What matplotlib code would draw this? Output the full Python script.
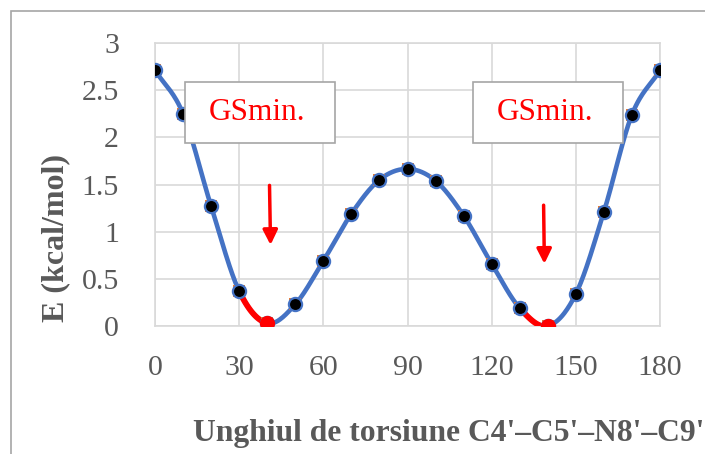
import numpy as np
import matplotlib
matplotlib.use("Agg")
import matplotlib.pyplot as plt
from matplotlib.patches import Rectangle

# datos
angulos = [0, 10, 20, 30, 40, 50, 60, 70, 80, 90, 100, 110, 120, 130, 140, 150, 160, 170, 180]
energia = [2.71, 2.25, 1.27, 0.37, 0.03, 0.23, 0.69, 1.19, 1.55, 1.665, 1.54, 1.17, 0.66, 0.19, 0.0, 0.34, 1.21, 2.24, 2.71]
minimos = [40, 140]
xticks = [0, 30, 60, 90, 120, 150, 180]
yticks = [0, 0.5, 1, 1.5, 2, 2.5, 3]
ytick_labels = ['0', '0.5', '1', '1.5', '2', '2.5', '3']

gris = '#595959'
azul = '#4472C4'
W, H = 705, 454


def suavizar(x, y, n=30):
    # Catmull-Rom para imitar la linea suavizada de Excel
    x = np.asarray(x, float)
    y = np.asarray(y, float)
    px = np.concatenate([[2 * x[0] - x[1]], x, [2 * x[-1] - x[-2]]])
    py = np.concatenate([[2 * y[0] - y[1]], y, [2 * y[-1] - y[-2]]])
    xs, ys = [], []
    for i in range(1, len(px) - 2):
        t = np.linspace(0, 1, n)
        for p, out in ((px, xs), (py, ys)):
            p0, p1, p2, p3 = p[i - 1], p[i], p[i + 1], p[i + 2]
            out.extend(0.5 * (2 * p1 + (-p0 + p2) * t + (2 * p0 - 5 * p1 + 4 * p2 - p3) * t ** 2
                              + (-p0 + 3 * p1 - 3 * p2 + p3) * t ** 3))
    return np.array(xs), np.array(ys), n


fig = plt.figure(figsize=(W / 100, H / 100), dpi=100)
ax = fig.add_axes([155 / W, 1 - 326 / H, (660 - 155) / W, (326 - 43) / H])

# marco del grafico
fig.patches.append(Rectangle((11 / W, -0.1), 1.2, 1 - 11 / H + 0.1, transform=fig.transFigure,
                             fill=False, edgecolor='#A6A6A6', lw=1.2))

xs, ys, n = suavizar(angulos, energia)
ax.plot(xs, ys, color=azul, lw=3.3, zorder=2, solid_capstyle='round')

# tramos rojos antes de cada minimo
for m in minimos:
    i = angulos.index(m)
    seg = slice((i - 1) * n, i * n)
    ax.plot(xs[seg], ys[seg], color='red', lw=4.2, zorder=3, solid_capstyle='round')

ax.scatter(angulos, energia, marker='s', s=85, color='#ED7D31', zorder=4, linewidths=0)
ax.scatter(angulos, energia, marker='o', s=90, color='black', edgecolors=azul, linewidths=1.6, zorder=5)
e_min = [energia[angulos.index(m)] for m in minimos]
ax.scatter(minimos, e_min, marker='o', s=120, color='red', zorder=6, linewidths=0)

ax.set_xlim(0, 180)
ax.set_ylim(0, 3)
ax.set_xticks(xticks)
ax.set_yticks(yticks)
ax.set_yticklabels(ytick_labels)
ax.grid(True, color='#D9D9D9', lw=1.2)
ax.set_axisbelow(True)
for s in ax.spines.values():
    s.set_color('#D9D9D9')
    s.set_linewidth(1.2)
ax.tick_params(length=0, labelsize=21.5, colors=gris, labelfontfamily='Liberation Serif')
ax.tick_params(axis='x', pad=21)
ax.tick_params(axis='y', pad=26)

fig.text(56 / W, 1 - 238 / H, 'E (kcal/mol)', rotation=90, ha='center', va='center',
         fontsize=23, fontweight='bold', color=gris, family='Liberation Serif')
fig.text(704 / W, 1 - 434 / H, "Unghiul de torsiune C4'\u2013C5'\u2013N8'\u2013C9'", ha='right', va='center',
         fontsize=22.8, fontweight='bold', color=gris, family='Liberation Serif')

# cuadros de texto
for x0 in (185, 473):
    fig.patches.append(Rectangle((x0 / W, 1 - 143 / H), 150 / W, 61 / H, transform=fig.transFigure,
                                 facecolor='white', edgecolor='#A6A6A6', lw=1.2, zorder=10))
    fig.text((x0 + 72) / W, 1 - 113 / H, 'GSmin.', ha='center', va='center', fontsize=22.5,
             color='red', family='Liberation Serif', zorder=11)

# flechas
ax.annotate('', xy=(41.2, 0.83), xytext=(40.8, 1.52),
            arrowprops=dict(arrowstyle='-|>', color='red', lw=2.5, mutation_scale=22))
ax.annotate('', xy=(138.8, 0.63), xytext=(138.5, 1.31),
            arrowprops=dict(arrowstyle='-|>', color='red', lw=2.5, mutation_scale=22))

fig.savefig('out.png', dpi=100)
